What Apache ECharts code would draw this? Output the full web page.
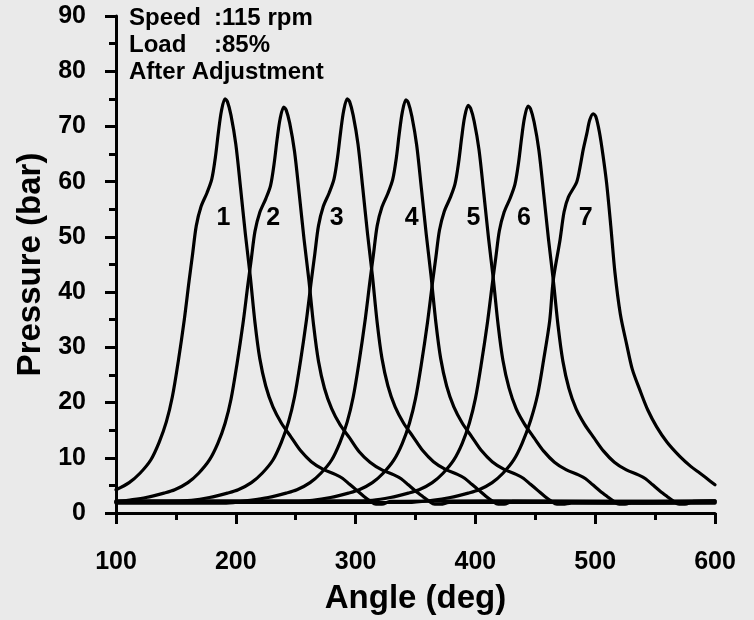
<!DOCTYPE html>
<html>
<head>
<meta charset="utf-8">
<script src="https://cdn.jsdelivr.net/npm/echarts@6/dist/echarts.min.js"></script>
<style>
html,body{margin:0;padding:0;background:#eaeaea;}
#chart{width:754px;height:620px;}
</style>
</head>
<body>
<div id="chart"></div>
<script>
// ---- data (angle in deg, pressure in bar) ----
const curve1 = [[100,4.2],[111,5.5],[120,7.2],[129,9.6],[136,12.8],[142,16.5],[147,21.0],[152,27.5],[157,35.0],[161,42.0],[164,47.0],[167,52.0],[171,55.5],[176,58.0],[180,60.5],[183,64.5],[185.5,69.0],[188,72.8],[191,75.0],[193,74.5],[196,72.0],[200,66.8],[204,58.8],[208,50.5],[212,43.0],[216,34.5],[220,28.0],[225,23.0],[231,19.2],[238,16.3],[246,13.8],[254,11.3],[263,9.3],[273,7.9],[283,7.0],[289,6.3],[295,5.2],[301,4.1],[307,3.0],[312,2.2],[317,1.6],[322,1.6],[329,2.1],[420,2.2],[510,2.1],[600,2.2]];
const curve2 = [[100,2.0],[110,2.3],[125,2.8],[140,3.6],[149,4.2],[160,5.5],[169,7.2],[178,9.6],[185,12.6],[191,16.2],[196,20.6],[201,27.0],[206,34.3],[210,41.2],[213,46.1],[216,51.0],[220,54.4],[225,56.9],[229,59.3],[232,63.3],[234.5,67.7],[237,71.4],[240,73.5],[242,73.0],[245,70.6],[249,65.5],[253,57.7],[257,49.5],[261,42.2],[265,33.9],[269,27.5],[274,22.6],[280,18.9],[287,16.0],[295,13.6],[303,11.1],[312,9.2],[322,7.8],[332,6.9],[338,6.2],[344,5.1],[350,4.0],[356,3.0],[361,2.2],[366,1.6],[371,1.6],[378,1.9],[470,1.9],[540,1.8],[600,1.9]];
const curve3 = [[100,2.1],[143,2.1],[163,2.3],[178,2.8],[193,3.6],[202,4.2],[213,5.5],[222,7.2],[231,9.6],[238,12.8],[244,16.5],[249,21.0],[254,27.5],[259,35.0],[263,42.0],[266,47.0],[269,52.0],[273,55.5],[278,58.0],[282,60.5],[285,64.5],[287.5,69.0],[290,72.8],[293,75.0],[295,74.5],[298,72.0],[302,66.8],[306,58.8],[310,50.5],[314,43.0],[318,34.5],[322,28.0],[327,23.0],[333,19.2],[340,16.3],[348,13.8],[356,11.3],[365,9.3],[375,7.9],[385,7.0],[391,6.3],[397,5.2],[403,4.1],[409,3.0],[414,2.2],[419,1.6],[424,1.6],[431,2.1],[520,2.1],[600,2.1]];
const curve4 = [[100,1.8],[192,1.8],[212,2.3],[227,2.8],[242,3.6],[251,4.2],[262,5.5],[271,7.2],[280,9.6],[287,12.8],[293,16.5],[298,21.0],[303,27.5],[308,35.0],[312,42.0],[315,47.0],[318,52.0],[322,55.4],[327,57.9],[331,60.4],[334,64.3],[336.5,68.8],[339,72.6],[342,74.8],[344,74.3],[347,71.8],[351,66.6],[355,58.6],[359,50.4],[363,42.9],[367,34.5],[371,28.0],[376,23.0],[382,19.2],[389,16.3],[397,13.8],[405,11.3],[414,9.3],[424,7.9],[434,7.0],[440,6.3],[446,5.2],[452,4.1],[458,3.0],[463,2.2],[468,1.6],[473,1.6],[480,1.8],[540,1.8],[600,1.8]];
const curve5 = [[100,2.0],[244,2.0],[264,2.3],[279,2.8],[294,3.6],[303,4.2],[314,5.5],[323,7.2],[332,9.6],[339,12.6],[345,16.3],[350,20.7],[355,27.1],[360,34.5],[364,41.4],[367,46.3],[370,51.2],[374,54.6],[379,57.1],[383,59.6],[386,63.5],[388.5,67.9],[391,71.7],[394,73.8],[396,73.3],[399,70.9],[403,65.8],[407,57.9],[411,49.7],[415,42.3],[419,34.0],[423,27.6],[428,22.7],[434,18.9],[441,16.1],[449,13.6],[457,11.2],[466,9.2],[476,7.8],[486,6.9],[492,6.2],[498,5.1],[504,4.0],[510,3.0],[515,2.2],[520,1.6],[525,1.6],[532,2.0],[600,2.0]];
const curve6 = [[100,2.2],[294,2.2],[314,2.3],[329,2.8],[344,3.6],[353,4.2],[364,5.5],[373,7.2],[382,9.6],[389,12.6],[395,16.3],[400,20.7],[405,27.1],[410,34.4],[414,41.3],[417,46.2],[420,51.1],[424,54.5],[429,57.0],[433,59.5],[436,63.4],[438.5,67.8],[441,71.6],[444,73.7],[446,73.2],[449,70.8],[453,65.7],[457,57.8],[461,49.6],[465,42.2],[469,33.9],[473,27.5],[478,22.6],[484,18.9],[491,16.1],[499,13.6],[507,11.2],[516,9.2],[526,7.8],[536,6.9],[542,6.2],[548,5.1],[554,4.0],[560,3.0],[565,2.2],[570,1.6],[575,1.6],[582,2.1],[600,2.2]];
const curve7 = [[100,1.9],[344,1.9],[364,2.3],[379,2.8],[394,3.6],[403,4.2],[414,5.5],[423,7.2],[432,9.6],[439,12.6],[446,16.7],[452,21.5],[457,27.8],[462,34.8],[465,42.2],[470.6,49.4],[474,54.5],[477.6,57.2],[484.5,59.9],[487.3,62.6],[490,65.8],[492.9,68.6],[495.5,71.2],[498.4,72.3],[500.5,71.8],[503.5,69.0],[506.5,64.8],[509.6,59.6],[513,52.0],[516.5,43.5],[521,36.0],[526.3,30.5],[531,26.0],[537.4,22.2],[544,18.6],[551.3,15.6],[560,12.8],[570.8,10.2],[580,8.4],[587.5,7.2],[593,6.3],[600,5.1]];

const curveLabels = ['1','2','3','4','5','6','7'];
const labelAngles = [189.6, 231.3, 284.2, 346.8, 398.3, 440.6, 492.1];
const labelPressures = [53.4, 53.4, 53.4, 53.4, 53.4, 53.4, 53.4];

const xTicks = { min: 100, max: 600, interval: 100 };
const yTicks = { min: 0, max: 90, interval: 10 };
const xName = 'Angle (deg)';
const yName = 'Pressure (bar)';
const infoLines = [['Speed', ':115 rpm'], ['Load', ':85%'], ['After Adjustment', '']];

// ---- chart ----
const FONT = '"Liberation Sans", Arial, sans-serif';
const curves = [curve1, curve2, curve3, curve4, curve5, curve6, curve7];
const chart = echarts.init(document.getElementById('chart'), null, { renderer: 'canvas' });

const axisCommon = {
  axisLine: { show: true, lineStyle: { color: '#000', width: 3 } },
  axisTick: { show: true, inside: false, length: 11, lineStyle: { color: '#000', width: 3 } },
  minorTick: { show: true, splitNumber: 2, length: 7, lineStyle: { color: '#000', width: 3 } },
  splitLine: { show: false },
  minorSplitLine: { show: false },
  axisLabel: { color: '#000', fontFamily: FONT, fontWeight: 'bold', fontSize: 25 },
  nameTextStyle: { color: '#000', fontFamily: FONT, fontWeight: 'bold', fontSize: 33 }
};

const series = curves.map((c, i) => ({
  type: 'line',
  name: 'c' + (i + 1),
  data: c,
  showSymbol: false,
  symbol: 'none',
  smooth: 0.3,
  lineStyle: { color: '#000', width: 3.2, join: 'round', cap: 'round' },
  z: 3
}));

series.push({
  type: 'custom',
  data: labelAngles.map((a, i) => [a, labelPressures[i], curveLabels[i]]),
  encode: { x: 0, y: 1 },
  renderItem: function (params, api) {
    const pt = api.coord([api.value(0), api.value(1)]);
    return {
      type: 'text',
      x: pt[0], y: pt[1],
      style: {
        text: curveLabels[params.dataIndex],
        fill: '#000',
        font: 'bold 25px ' + FONT,
        align: 'center',
        verticalAlign: 'middle'
      }
    };
  },
  silent: true,
  z: 4
});

const graphics = [];
infoLines.forEach((ln, i) => {
  const y = 20 + i * 27.3;
  graphics.push({ type: 'text', left: 129, top: y - 14, style: { text: ln[0], fill: '#000', font: 'bold 24px ' + FONT } });
  if (ln[1]) graphics.push({ type: 'text', left: 214, top: y - 14, style: { text: ln[1], fill: '#000', font: 'bold 24px ' + FONT } });
});

chart.setOption({
  animation: false,
  backgroundColor: '#eaeaea',
  grid: { left: 116, right: 39, top: 16, bottom: 103, containLabel: false },
  xAxis: Object.assign({}, axisCommon, {
    type: 'value', min: xTicks.min, max: xTicks.max, interval: xTicks.interval,
    name: xName, nameLocation: 'middle', nameGap: 69,
    axisLabel: Object.assign({}, axisCommon.axisLabel, { margin: 37 })
  }),
  yAxis: Object.assign({}, axisCommon, {
    type: 'value', min: yTicks.min, max: yTicks.max, interval: yTicks.interval,
    name: yName, nameLocation: 'middle', nameGap: 65,
    axisLabel: Object.assign({}, axisCommon.axisLabel, { margin: 30, padding: [4, 0, 0, 0] })
  }),
  graphic: graphics,
  series: series
});
</script>
</body>
</html>
